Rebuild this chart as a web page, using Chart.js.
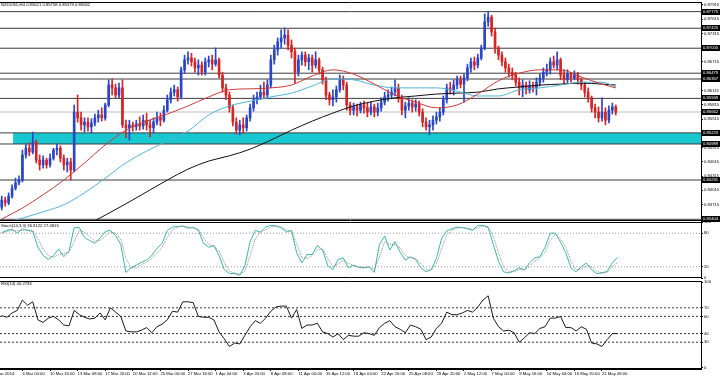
<!DOCTYPE html>
<html><head><meta charset="utf-8">
<script src="https://cdn.jsdelivr.net/npm/chart.js@4/dist/chart.umd.min.js"></script>
<style>
html,body{margin:0;padding:0;background:#fff;}
#wrap{position:relative;width:720px;height:378px;overflow:hidden;background:#fff;}
canvas{position:absolute;left:0;top:0;}
</style></head><body>
<div id="wrap">
<canvas id="cMain" width="720" height="378"></canvas>
<canvas id="cStoch" width="720" height="378"></canvas>
<canvas id="cRsi" width="720" height="378"></canvas>
</div>
<script>
// ---------- texts ----------
const symbolTitle = "NZDUSD,H4 0.85621 0.85758 0.85579 0.85662";
const stochTitle = "Stoch(14,3,3) 36.9122 27.6815";
const rsiTitle = "RSI(14) 40.2736";
const firstLabel = "4 Mar 2014";
const firstLabelIdx = -2.5;
const timeLabelIdx = [6,14,22,30,38,46,54,62,70,78,86,94,102,110,118,126,134,142,150,158,166,174];
const timeLabels = ["6 Mar 04:00","10 Mar 16:00","13 Mar 08:00","17 Mar 20:00","20 Mar 12:00","25 Mar 00:00","27 Mar 16:00","1 Apr 04:00","3 Apr 20:00","8 Apr 08:00","11 Apr 00:00","15 Apr 12:00","18 Apr 04:00","22 Apr 16:00","25 Apr 08:00","29 Apr 20:00","2 May 12:00","7 May 00:00","9 May 16:00","14 May 04:00","16 May 20:00","21 May 08:00"];

// ---------- candles ----------
const openP = [0.8366,0.8381,0.8375,0.8389,0.8406,0.8417,0.8423,0.8476,0.8490,0.8482,
0.8503,0.8465,0.8455,0.8465,0.8455,0.8469,0.8486,0.8490,0.8469,0.8455,
0.8461,0.8444,0.8566,0.8554,0.8539,0.8545,0.8535,0.8543,0.8554,0.8560,
0.8554,0.8581,0.8623,0.8617,0.8602,0.8617,0.8539,0.8533,0.8539,0.8535,
0.8541,0.8537,0.8549,0.8539,0.8533,0.8545,0.8554,0.8549,0.8570,0.8592,
0.8608,0.8613,0.8598,0.8655,0.8676,0.8680,0.8672,0.8659,0.8665,0.8650,
0.8672,0.8676,0.8667,0.8676,0.8644,0.8617,0.8602,0.8575,0.8545,0.8528,
0.8539,0.8533,0.8554,0.8575,0.8592,0.8598,0.8608,0.8602,0.8623,0.8676,
0.8697,0.8714,0.8722,0.8728,0.8707,0.8693,0.8650,0.8676,0.8686,0.8672,
0.8680,0.8665,0.8676,0.8655,0.8634,0.8602,0.8592,0.8598,0.8613,0.8634,
0.8623,0.8581,0.8570,0.8577,0.8570,0.8581,0.8575,0.8566,0.8577,0.8566,
0.8575,0.8587,0.8598,0.8602,0.8608,0.8617,0.8596,0.8570,0.8579,0.8585,
0.8577,0.8583,0.8566,0.8545,0.8535,0.8539,0.8549,0.8556,0.8566,0.8592,
0.8617,0.8613,0.8623,0.8634,0.8625,0.8638,0.8659,0.8672,0.8665,0.8680,
0.8701,0.8756,0.8766,0.8735,0.8701,0.8686,0.8672,0.8659,0.8650,0.8644,
0.8629,0.8617,0.8623,0.8613,0.8621,0.8617,0.8629,0.8638,0.8650,0.8655,
0.8672,0.8665,0.8676,0.8644,0.8634,0.8646,0.8638,0.8644,0.8634,0.8623,
0.8608,0.8596,0.8575,0.8566,0.8554,0.8566,0.8549,0.8570,0.8577];
const highP = [0.8389,0.8387,0.8396,0.8413,0.8427,0.8432,0.8486,0.8499,0.8501,0.8524,
0.8507,0.8476,0.8474,0.8469,0.8478,0.8490,0.8499,0.8495,0.8476,0.8469,
0.8469,0.8581,0.8602,0.8566,0.8554,0.8554,0.8552,0.8562,0.8570,0.8575,
0.8585,0.8634,0.8636,0.8625,0.8627,0.8634,0.8549,0.8549,0.8545,0.8549,
0.8556,0.8560,0.8564,0.8549,0.8554,0.8566,0.8564,0.8579,0.8602,0.8617,
0.8623,0.8619,0.8661,0.8686,0.8693,0.8690,0.8680,0.8676,0.8672,0.8680,
0.8684,0.8686,0.8701,0.8680,0.8650,0.8625,0.8608,0.8581,0.8554,0.8549,
0.8554,0.8560,0.8583,0.8602,0.8608,0.8623,0.8629,0.8634,0.8686,0.8707,
0.8722,0.8739,0.8743,0.8739,0.8718,0.8701,0.8686,0.8693,0.8693,0.8688,
0.8686,0.8693,0.8680,0.8661,0.8640,0.8608,0.8613,0.8621,0.8644,0.8642,
0.8629,0.8587,0.8585,0.8583,0.8587,0.8589,0.8585,0.8587,0.8583,0.8585,
0.8596,0.8608,0.8613,0.8619,0.8634,0.8625,0.8602,0.8587,0.8596,0.8592,
0.8592,0.8589,0.8573,0.8554,0.8549,0.8558,0.8566,0.8575,0.8600,0.8625,
0.8629,0.8634,0.8642,0.8642,0.8646,0.8667,0.8680,0.8682,0.8688,0.8707,
0.8773,0.8777,0.8770,0.8743,0.8705,0.8693,0.8680,0.8667,0.8659,0.8650,
0.8638,0.8634,0.8629,0.8632,0.8629,0.8638,0.8646,0.8659,0.8667,0.8680,
0.8684,0.8693,0.8680,0.8655,0.8655,0.8650,0.8653,0.8650,0.8638,0.8629,
0.8617,0.8600,0.8583,0.8577,0.8596,0.8575,0.8579,0.8585,0.8581];
const lowP = [0.8360,0.8368,0.8371,0.8385,0.8402,0.8413,0.8419,0.8469,0.8474,0.8478,
0.8459,0.8444,0.8448,0.8448,0.8450,0.8465,0.8476,0.8461,0.8444,0.8440,
0.8423,0.8440,0.8545,0.8528,0.8524,0.8526,0.8522,0.8537,0.8545,0.8547,
0.8549,0.8577,0.8602,0.8596,0.8596,0.8533,0.8512,0.8507,0.8526,0.8528,
0.8528,0.8530,0.8528,0.8514,0.8522,0.8539,0.8537,0.8545,0.8566,0.8585,
0.8600,0.8589,0.8594,0.8648,0.8667,0.8663,0.8650,0.8644,0.8644,0.8644,
0.8661,0.8655,0.8663,0.8638,0.8608,0.8592,0.8566,0.8537,0.8520,0.8518,
0.8522,0.8526,0.8547,0.8568,0.8583,0.8592,0.8594,0.8596,0.8617,0.8667,
0.8686,0.8701,0.8709,0.8697,0.8680,0.8627,0.8642,0.8665,0.8663,0.8655,
0.8650,0.8659,0.8646,0.8625,0.8592,0.8581,0.8579,0.8587,0.8608,0.8613,
0.8570,0.8560,0.8560,0.8558,0.8564,0.8564,0.8556,0.8560,0.8556,0.8558,
0.8568,0.8581,0.8589,0.8594,0.8600,0.8587,0.8560,0.8554,0.8570,0.8566,
0.8568,0.8558,0.8535,0.8528,0.8518,0.8528,0.8541,0.8547,0.8560,0.8585,
0.8604,0.8602,0.8615,0.8617,0.8587,0.8632,0.8650,0.8655,0.8659,0.8676,
0.8697,0.8747,0.8726,0.8690,0.8676,0.8663,0.8650,0.8640,0.8634,0.8621,
0.8602,0.8598,0.8604,0.8606,0.8608,0.8602,0.8621,0.8629,0.8642,0.8646,
0.8659,0.8655,0.8634,0.8625,0.8627,0.8629,0.8634,0.8625,0.8613,0.8598,
0.8587,0.8566,0.8554,0.8545,0.8547,0.8539,0.8543,0.8562,0.8560];
const closeP = [0.8381,0.8375,0.8389,0.8406,0.8417,0.8423,0.8476,0.8490,0.8482,0.8503,
0.8465,0.8455,0.8465,0.8455,0.8469,0.8486,0.8490,0.8469,0.8455,0.8461,
0.8444,0.8566,0.8554,0.8539,0.8545,0.8535,0.8543,0.8554,0.8560,0.8554,
0.8581,0.8623,0.8617,0.8602,0.8617,0.8539,0.8533,0.8539,0.8535,0.8541,
0.8537,0.8549,0.8539,0.8533,0.8545,0.8554,0.8549,0.8570,0.8592,0.8608,
0.8613,0.8598,0.8655,0.8676,0.8680,0.8672,0.8659,0.8665,0.8650,0.8672,
0.8676,0.8667,0.8676,0.8644,0.8617,0.8602,0.8575,0.8545,0.8528,0.8539,
0.8533,0.8554,0.8575,0.8592,0.8598,0.8608,0.8602,0.8623,0.8676,0.8697,
0.8714,0.8722,0.8728,0.8707,0.8693,0.8650,0.8676,0.8686,0.8672,0.8680,
0.8665,0.8676,0.8655,0.8634,0.8602,0.8592,0.8598,0.8613,0.8634,0.8623,
0.8581,0.8570,0.8577,0.8570,0.8581,0.8575,0.8566,0.8577,0.8566,0.8575,
0.8587,0.8598,0.8602,0.8608,0.8617,0.8596,0.8570,0.8579,0.8585,0.8577,
0.8583,0.8566,0.8545,0.8535,0.8539,0.8549,0.8556,0.8566,0.8592,0.8617,
0.8613,0.8623,0.8634,0.8625,0.8638,0.8659,0.8672,0.8665,0.8680,0.8701,
0.8756,0.8766,0.8735,0.8701,0.8686,0.8672,0.8659,0.8650,0.8644,0.8629,
0.8617,0.8623,0.8613,0.8621,0.8617,0.8629,0.8638,0.8650,0.8655,0.8672,
0.8665,0.8676,0.8644,0.8634,0.8646,0.8638,0.8644,0.8634,0.8623,0.8608,
0.8596,0.8575,0.8566,0.8554,0.8566,0.8549,0.8570,0.8577,0.8566];

// ---------- moving averages (sampled every 6 candles) ----------
const maIdx = [0,6,12,18,24,30,36,42,48,54,60,66,72,78,84,90,96,102,108,114,120,126,132,138,144,150,156,162,168,174,178];
const maRed = [0.8341,0.8364,0.8392,0.8423,0.8459,0.8497,0.8528,0.8547,0.8562,0.8579,0.8598,0.8613,0.8615,0.8617,0.8623,0.8642,0.8655,0.8646,0.8625,0.8602,0.8587,0.8575,0.8581,0.8604,0.8632,0.8648,0.8655,0.8655,0.8640,0.8625,0.8617];
const maTeal = [0.8331,0.8343,0.8356,0.8371,0.8396,0.8427,0.8459,0.8484,0.8505,0.8526,0.8560,0.8579,0.8589,0.8598,0.8606,0.8621,0.8636,0.8634,0.8623,0.8617,0.8617,0.8617,0.8610,0.8600,0.8600,0.8613,0.8617,0.8623,0.8629,0.8629,0.8619];
const maBlack = [null,null,null,null,0.8326,0.8349,0.8373,0.8398,0.8423,0.8446,0.8463,0.8474,0.8488,0.8507,0.8528,0.8547,0.8564,0.8579,0.8589,0.8596,0.8600,0.8604,0.8606,0.8608,0.8615,0.8619,0.8623,0.8625,0.8627,0.8625,0.8623];

// ---------- oscillators (one sample every 1.5 candles) ----------
const oscStep = 1.5;
const stochK = [81,85,87,80,88,85,83,55,40,33, 40,52,38,48,90,90,72,67,62,71, 83,85,76,60,10,18,23,28,32,40,
53,62,85,91,92,93,89,90,85,62, 55,58,40,15,8,8,5,22,65,85, 82,91,94,93,90,82,85,45,27,42,
42,58,50,22,15,33,36,18,23,19, 18,20,10,60,75,50,65,46,32,38, 33,18,11,15,35,70,84,88,91,90,
88,85,94,94,90,60,30,11,9,13, 18,14,27,36,38,55,80,80,64,45, 18,11,20,27,15,8,9,12,27,37];
const stochD = [80,83,85,84,85,86,85,70,52,40, 37,42,44,46,65,85,82,74,66,67, 74,82,80,70,35,18,18,24,28,35,
44,55,72,86,91,92,91,90,87,72, 60,57,48,28,12,9,7,12,40,70, 82,86,91,93,91,86,84,62,36,35,
40,50,52,35,20,25,32,26,22,20, 19,19,15,38,65,60,60,54,40,36, 35,25,15,14,25,52,76,86,89,90,
89,87,90,93,92,75,45,20,11,11, 15,15,21,30,36,46,67,78,70,55, 30,15,16,22,20,12,9,10,20,28];
const rsiVals = [61,59,64,67,79,73,77,56,53,58, 60,56,50,49,67,62,59,57,58,64, 56,70,65,60,43,42,42,44,47,41,
48,51,56,66,65,77,77,76,60,59, 59,56,42,34,25,29,28,38,48,55, 52,58,66,71,72,72,58,68,46,50,
50,52,42,40,36,40,33,38,37,37, 41,40,38,47,52,55,48,45,41,50, 48,45,33,36,46,52,65,62,62,64,
67,65,71,79,84,58,48,43,44,41, 30,35,41,40,46,48,58,58,60,47, 47,43,48,45,29,28,25,33,40,40];

// ---------- axes and levels ----------
const priceTicks = [0.87915,0.87615,0.87315,0.87015,0.86715,0.86415,0.86115,0.85815,0.85515,0.85215,0.84915,0.84615,0.84315,0.84015,0.83715,0.83415];
const levelLines = [0.87775,0.87425,0.87005,0.86479,0.86357,0.85949,0.85223,0.84989,0.84231,0.83404];
const bidPrice = 0.85662;
const zoneTop = 0.85223, zoneBottom = 0.84989, zoneStart = 3.3;
const stochTicks = [0,20,80,100], stochLevels = [20,80];
const rsiTicks = [0,30,40,60,70,100], rsiLevels = [30,40,60,70];

// ---------- layout/style ----------
const X_MIN = -0.5, X_MAX = 202.7;
const FONT = {family:'"Liberation Sans", Arial, sans-serif', size:4.2, lineHeight:1};
const FONT_STR = '4.2px "Liberation Sans", Arial, sans-serif';
const UP = '#2a46c8', DOWN = '#d42424';

Chart.defaults.animation = false;
Chart.defaults.plugins.legend.display = false;
Chart.defaults.plugins.tooltip.enabled = false;

function xHidden(){ return {type:'linear', min:X_MIN, max:X_MAX, display:false, offset:false}; }
function yRight(min,max,ticks,fmt){
  return {position:'right', min, max,
    afterFit(s){ s.width = 19; s.paddingTop = 0; s.paddingBottom = 0; },
    afterBuildTicks(s){ s.ticks = ticks.map(v=>({value:v})); },
    grid:{drawOnChartArea:false, drawTicks:true, tickLength:2, color:'#000'},
    border:{display:true, color:'#000'},
    ticks:{font:FONT, color:'#000', padding:1, autoSkip:false, callback:fmt}};
}
function hline(y, color, dash){
  return {type:'line', data:[{x:X_MIN,y},{x:X_MAX,y}], borderColor:color, borderWidth:1,
    borderDash:dash||[], pointRadius:0, fill:false, order:9};
}
function frame(title, ty){
  return {id:'frame', afterDraw(chart){
    const {ctx, chartArea:a} = chart;
    ctx.save();
    ctx.strokeStyle = '#000'; ctx.lineWidth = 1;
    ctx.beginPath();
    ctx.moveTo(0, Math.round(a.top)+0.5); ctx.lineTo(a.right, Math.round(a.top)+0.5);
    ctx.moveTo(0, Math.round(a.bottom)-0.5); ctx.lineTo(a.right, Math.round(a.bottom)-0.5);
    ctx.stroke();
    ctx.font = FONT_STR; ctx.fillStyle = '#000'; ctx.textBaseline = 'middle'; ctx.textAlign = 'left';
    ctx.fillText(title, 1, a.top + ty);
    ctx.restore();
  }};
}

// ---------- main price chart ----------
const candleColors = closeP.map((c,i)=> c >= openP[i] ? UP : DOWN);
const mainDatasets = [
  {type:'line', data:[{x:zoneStart,y:zoneTop},{x:X_MAX,y:zoneTop}], fill:{value:zoneBottom},
   backgroundColor:'#18c8d0', borderWidth:0, pointRadius:0, order:10},
  ...levelLines.map(v=>hline(v,'#3c3c3c')),
  hline(bidPrice,'#bdbdbd'),
  {type:'bar', data:closeP.map((c,i)=>({x:i, y:[lowP[i], highP[i]]})), backgroundColor:candleColors,
   barThickness:1, grouped:false, borderWidth:0, order:4},
  {type:'bar', data:closeP.map((c,i)=>({x:i, y:[openP[i], c]})), backgroundColor:candleColors,
   barThickness:2, minBarLength:1, grouped:false, borderWidth:0, order:3},
  {type:'line', data:maIdx.map((ix,k)=>({x:ix,y:maRed[k]})), borderColor:'#c93a3a', borderWidth:1, pointRadius:0, cubicInterpolationMode:'monotone', order:1},
  {type:'line', data:maIdx.map((ix,k)=>({x:ix,y:maTeal[k]})), borderColor:'#52b3d6', borderWidth:1, pointRadius:0, cubicInterpolationMode:'monotone', order:1},
  {type:'line', data:maIdx.map((ix,k)=>({x:ix,y:maBlack[k]})), borderColor:'#111', borderWidth:1, pointRadius:0, cubicInterpolationMode:'monotone', spanGaps:false, order:1}
];
const priceBoxes = {id:'priceBoxes', afterDraw(chart){
  const {ctx, chartArea:a, scales:{y}} = chart;
  ctx.save();
  ctx.font = FONT_STR; ctx.textBaseline = 'middle'; ctx.textAlign = 'left';
  levelLines.concat([bidPrice]).forEach(v=>{
    const py = Math.round(y.getPixelForValue(v));
    ctx.fillStyle = '#000'; ctx.fillRect(a.right+1, py-3, 19, 6);
    ctx.fillStyle = '#fff'; ctx.fillText(v.toFixed(5), a.right+2, py+0.3);
  });
  ctx.restore();
}};
new Chart(document.getElementById('cMain'), {
  type:'bar',
  data:{datasets:mainDatasets},
  options:{responsive:false, devicePixelRatio:1,
    layout:{padding:{top:2, bottom:157, left:0, right:0}, autoPadding:false},
    scales:{x:xHidden(), y:yRight(0.83368, 0.87978, priceTicks, v=>Number(v).toFixed(5))}},
  plugins:[frame(symbolTitle, 3), priceBoxes]
});

// ---------- stochastic ----------
new Chart(document.getElementById('cStoch'), {
  type:'line',
  data:{datasets:[
    ...stochLevels.map(v=>hline(v,'#9a9a9a',[1,2])),
    {data:stochK.map((v,k)=>({x:k*oscStep,y:v})), borderColor:'#3fb2ac', borderWidth:1, pointRadius:0, order:2},
    {data:stochD.map((v,k)=>({x:k*oscStep,y:v})), borderColor:'#8a8a8a', borderWidth:1, borderDash:[1,1], pointRadius:0, order:1}
  ]},
  options:{responsive:false, devicePixelRatio:1,
    layout:{padding:{top:222, bottom:100, left:0, right:0}, autoPadding:false},
    scales:{x:xHidden(), y:yRight(0, 100, stochTicks, v=>String(v))}},
  plugins:[frame(stochTitle, 4)]
});

// ---------- RSI ----------
const firstDateLabel = {id:'firstDate', afterDraw(chart){
  const {ctx, scales:{x}, chartArea:a} = chart;
  ctx.save(); ctx.font = FONT_STR; ctx.fillStyle = '#000'; ctx.textBaseline = 'top'; ctx.textAlign = 'left';
  ctx.fillText(firstLabel, x.getPixelForValue(firstLabelIdx), a.bottom + 3);
  ctx.restore();
}};
new Chart(document.getElementById('cRsi'), {
  type:'line',
  data:{datasets:[
    ...rsiLevels.map(v=>hline(v,'#333',[2,2])),
    {data:rsiVals.map((v,k)=>({x:k*oscStep,y:v})), borderColor:'#1a1a1a', borderWidth:1, pointRadius:0, order:1}
  ]},
  options:{responsive:false, devicePixelRatio:1,
    layout:{padding:{top:281, bottom:0, left:0, right:0}, autoPadding:false},
    scales:{
      x:{type:'linear', min:X_MIN, max:X_MAX, offset:false,
        afterFit(s){ s.height = 9; s.paddingLeft = 0; s.paddingRight = 0; },
        afterBuildTicks(s){ s.ticks = timeLabelIdx.map(v=>({value:v})); },
        grid:{drawOnChartArea:false, drawTicks:true, tickLength:2, color:'#000'},
        border:{display:true, color:'#000'},
        ticks:{font:FONT, color:'#000', padding:1, autoSkip:false, maxRotation:0, minRotation:0, align:'start',
          callback:(v,i)=>timeLabels[i]}},
      y:yRight(-1.2, 101.2, rsiTicks, v=>String(v))}},
  plugins:[frame(rsiTitle, 3), firstDateLabel]
});
</script>
</body></html>
